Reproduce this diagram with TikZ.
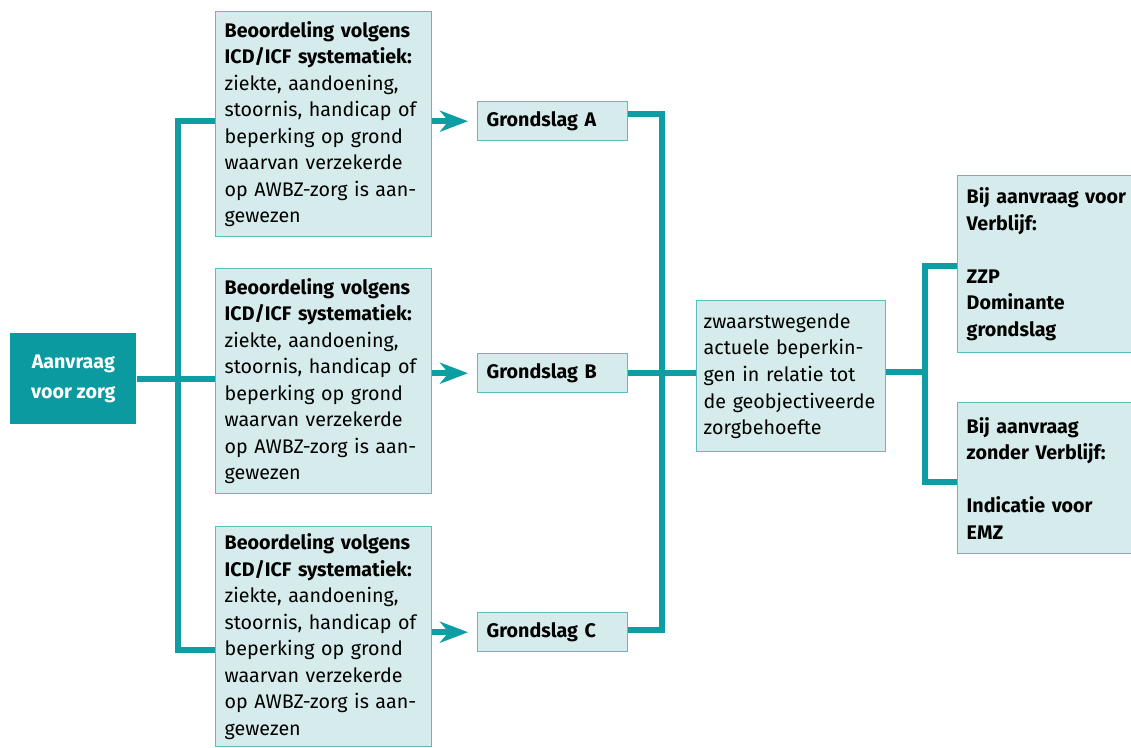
\documentclass[tikz,border=0pt]{standalone}
\usepackage{fontspec}
\setmainfont{Fira Sans}
\usepackage{xcolor}
\usetikzlibrary{arrows.meta}

\definecolor{tealline}{HTML}{0E9DA3}
\definecolor{tealvlak}{HTML}{0B9A9F}
\definecolor{kadervlak}{HTML}{D6EBEB}
\definecolor{kaderrand}{HTML}{5BBDC2}

\newcommand{\beoordeling}{\textbf{Beoordeling volgens}\\\textbf{ICD/ICF systematiek:}\\ziekte, aandoening,\\stoornis, handicap of\\beperking op grond\\waarvan verzekerde\\op AWBZ-zorg is aan-\\gewezen}

\begin{document}
\begin{tikzpicture}[x=0.02cm,y=-0.02cm,
        >={Stealth[length=0.56cm,width=0.42cm,inset=0.17cm]},
        every node/.style={font=\fontsize{11.2}{15.1}\selectfont},
        kader/.style={draw=kaderrand,fill=kadervlak,line width=0.8pt,anchor=north west,
            align=left,inner xsep=0.18cm,inner ysep=0pt},
        grondslag/.style={kader,font=\fontsize{11.2}{15.1}\selectfont\bfseries,
            text width=2.64cm,minimum height=0.78cm},
        lijn/.style={draw=tealline,line width=3.1pt}]

      \useasboundingbox (0,0) rectangle (1131,747);

      % aanvraag en beoordelingen
      \node[fill=tealvlak,text=white,font=\fontsize{11.2}{17}\selectfont\bfseries,align=center,
            anchor=north west,minimum width=2.52cm,minimum height=1.82cm,inner sep=0pt]
            (aanvraag) at (10,333) {Aanvraag\\voor zorg};
      \node[kader,text width=3.96cm,minimum height=4.5cm]  (beoor_a) at (215,11)  {\beoordeling};
      \node[kader,text width=3.96cm,minimum height=4.5cm]  (beoor_b) at (215,268) {\beoordeling};
      \node[kader,text width=3.96cm,minimum height=4.4cm]  (beoor_c) at (215,526) {\beoordeling};

      % grondslagen
      \node[grondslag] (grond_a) at (477,101) {Grondslag A};
      \node[grondslag] (grond_b) at (477,353) {Grondslag B};
      \node[grondslag] (grond_c) at (477,612) {Grondslag C};

      \node[kader,text width=3.5cm,minimum height=3.02cm,inner xsep=0.14cm] (zwaar) at (696,300)
            {zwaarstwegende\\actuele beperkin-\\gen in relatie tot\\de geobjectiveerde\\zorgbehoefte};

      % uitkomst
      \node[kader,font=\fontsize{11.2}{15.1}\selectfont\bfseries,text width=3.6cm,minimum height=3.54cm]
            (verblijf) at (957,175) {Bij aanvraag voor\\Verblijf:\\[15pt]ZZP\\Dominante\\grondslag};
      \node[kader,font=\fontsize{11.2}{15.1}\selectfont\bfseries,text width=3.6cm,minimum height=3.02cm]
            (zonder) at (957,402) {Bij aanvraag\\zonder Verblijf:\\[15pt]Indicatie voor\\EMZ};

      \coordinate (links_a) at (178,121);
      \coordinate (links_c) at (178,650);
      \coordinate (rechts_a) at (662,114);
      \coordinate (rechts_c) at (662,630);
      \coordinate (verdeel) at (925,372);
      \coordinate (verdeel_boven) at (925,266);
      \coordinate (verdeel_onder) at (925,482);

      \draw[lijn] (aanvraag.east) -- (aanvraag.east -| beoor_b.west);
      \draw[lijn] (links_a -| beoor_a.west) -- (links_a) -- (links_c) -- (links_c -| beoor_c.west);

      \draw[lijn,->,shorten >=0.18cm] (beoor_a.east |- grond_a.west) -- (grond_a.west);
      \draw[lijn,->,shorten >=0.18cm] (beoor_b.east |- grond_b.west) -- (grond_b.west);
      \draw[lijn,->,shorten >=0.18cm] (beoor_c.east |- grond_c.west) -- (grond_c.west);

      \draw[lijn] (rechts_a -| grond_a.east) -- (rechts_a) -- (rechts_c) -- (rechts_c -| grond_c.east);
      \draw[lijn] (grond_b.east) -- (grond_b.east -| zwaar.west);

      \draw[lijn] (verdeel -| zwaar.east) -- (verdeel);
      \draw[lijn] (verdeel_boven -| verblijf.west) -- (verdeel_boven) -- (verdeel_onder) -- (verdeel_onder -| zonder.west);
\end{tikzpicture}
\end{document}
